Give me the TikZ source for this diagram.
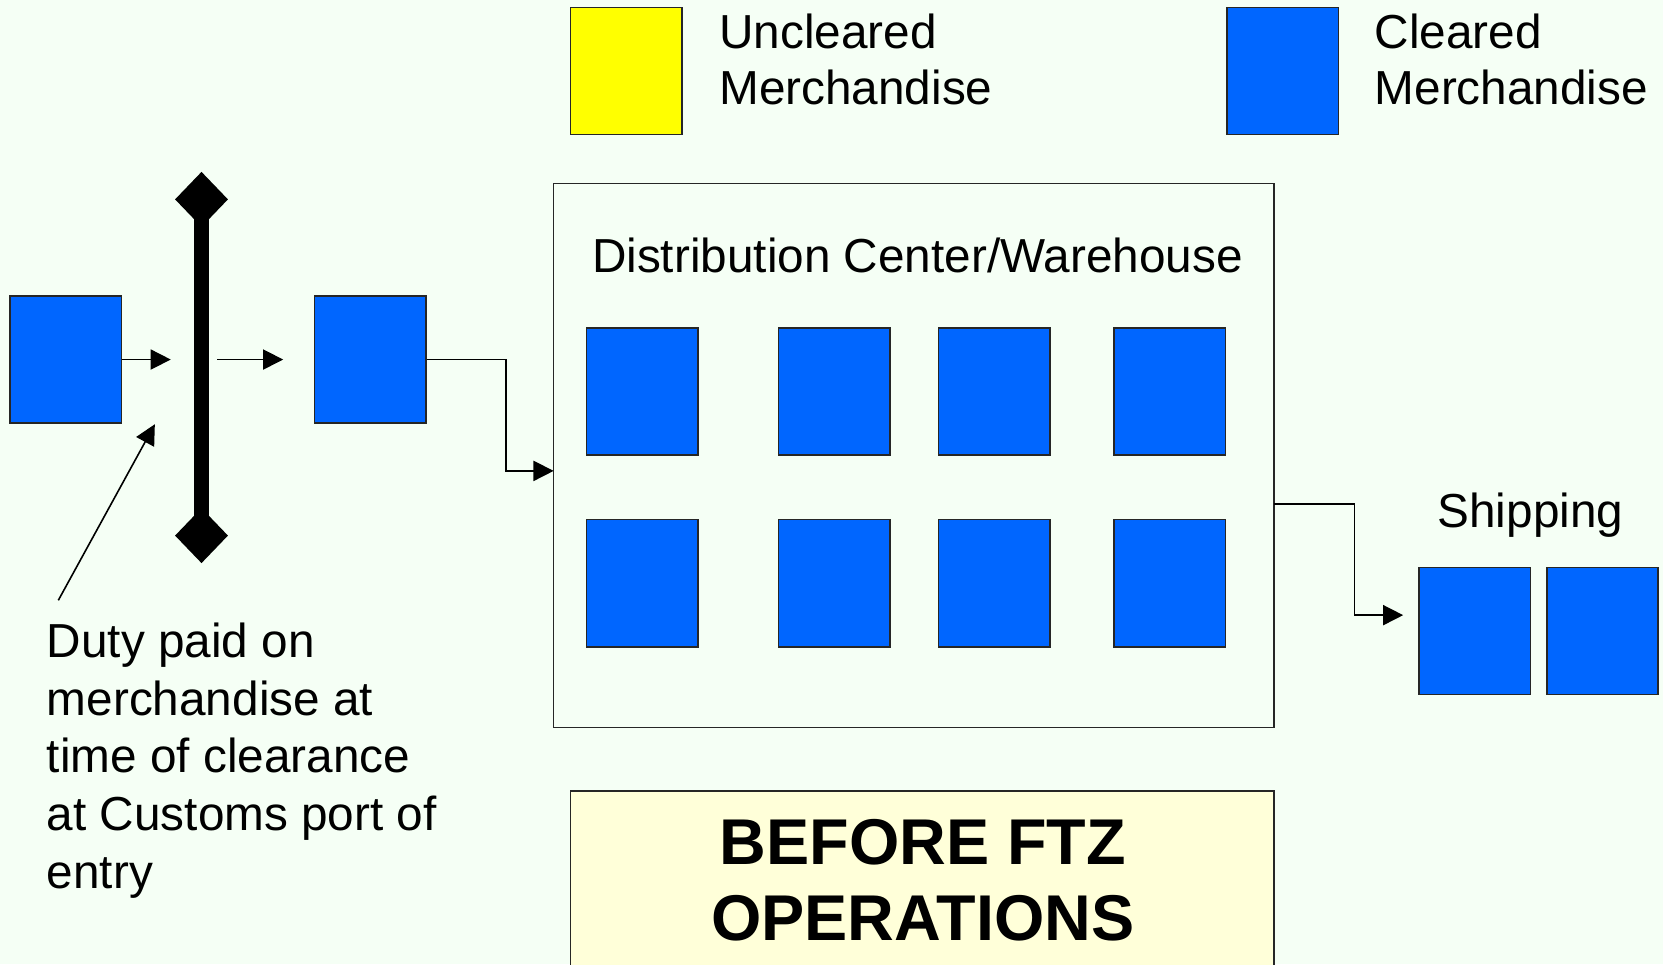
\documentclass[tikz,border=0pt]{standalone}
\usepackage{fontspec}
\setmainfont{Liberation Sans}
\usetikzlibrary{arrows.meta,shapes.geometric}
\definecolor{bgcol}{HTML}{F5FFF5}
\definecolor{clearblue}{HTML}{0066FF}
\definecolor{unclear}{HTML}{FFFF00}
\definecolor{notefill}{HTML}{FFFFD9}
\tikzset{
  cbox/.style={draw=black!85, line width=1.5pt, fill=clearblue, minimum width=105pt, minimum height=120pt, inner sep=0pt},
  ybox/.style={cbox, fill=unclear},
  arr/.style={draw=black, line width=1.5pt, -{Triangle[length=19pt,width=19pt]}},
  conn/.style={draw=black, line width=1.5pt},
  txt/.style={inner sep=0pt, font=\fontsize{45}{54.5}\selectfont, align=left},
  legtxt/.style={txt, font=\fontsize{45}{53}\selectfont},
  gate/.style={diamond, fill=black, minimum width=50pt, minimum height=52pt, inner sep=0pt},
}
\begin{document}
\begin{tikzpicture}[x=1pt,y=-1pt]
\useasboundingbox (0,0) rectangle (1568,909);
\fill[bgcol] (0,0) rectangle (1568,909);
% legend
\node[ybox] (leg1) at (590.5,67) {};
\node[legtxt, anchor=north west] (leg1t) at (678,13) {Uncleared\\Merchandise};
\node[cbox] (leg2) at (1209.5,67) {};
\node[legtxt, anchor=north west] (leg2t) at (1296,13) {Cleared\\Merchandise};
% left chain
\node[cbox] (b1) at (62,339) {};
\node[cbox] (b2) at (349,339) {};
\node[gate] (gtop) at (190,188) {};
\node[gate] (gbot) at (190,505) {};
\draw[line width=15pt] (gtop.center) -- (gbot.center);
\coordinate (a1end) at (161,339);
\coordinate (a2start) at (205,339);
\coordinate (a2end) at (267,339);
\draw[arr] (b1.east) -- (a1end);
\draw[arr] (a2start) -- (a2end);
\coordinate (notestart) at (55,566);
\coordinate (notetip) at (146,400);
\draw[arr] (notestart) -- (notetip);
\node[txt, anchor=north west] (note) at (44,587) {Duty paid on\\merchandise at\\time of clearance\\at Customs port of\\entry};
% warehouse
\node[draw=black!85, line width=1.5pt, fill=none, minimum width=679pt, minimum height=513pt, inner sep=0pt] (wh) at (861.5,429.5) {};
\node[txt, anchor=base] (whtitle) at (865,257) {Distribution Center/Warehouse};
\node[cbox] (w1) at (605.5,369) {};
\node[cbox] (w2) at (786.5,369) {};
\node[cbox] (w3) at (937.5,369) {};
\node[cbox] (w4) at (1103,369) {};
\node[cbox] (w5) at (605.5,550) {};
\node[cbox] (w6) at (786.5,550) {};
\node[cbox] (w7) at (937.5,550) {};
\node[cbox] (w8) at (1103,550) {};
\coordinate (whin) at (522,444);
\draw[arr] (b2.east) -- (477,339) -- (477,444) -- (whin);
% shipping
\node[cbox] (s1) at (1390.5,595) {};
\node[cbox] (s2) at (1511,595) {};
\node[txt, anchor=base] (shiptitle) at (1443,497) {Shipping};
\coordinate (whout) at (1201,475);
\coordinate (shipin) at (1323,580);
\draw[arr] (whout) -- (1277,475) -- (1277,580) -- (shipin);
% bottom title
\node[draw=black!85, line width=1.5pt, fill=notefill, minimum width=663pt, minimum height=190pt, inner sep=0pt] (title) at (869.5,841) {};
\node[inner sep=0pt, font=\fontsize{61}{72}\selectfont\bfseries, align=center, anchor=north] (titletext) at (870,772) {BEFORE FTZ\\OPERATIONS};
\end{tikzpicture}
\end{document}
